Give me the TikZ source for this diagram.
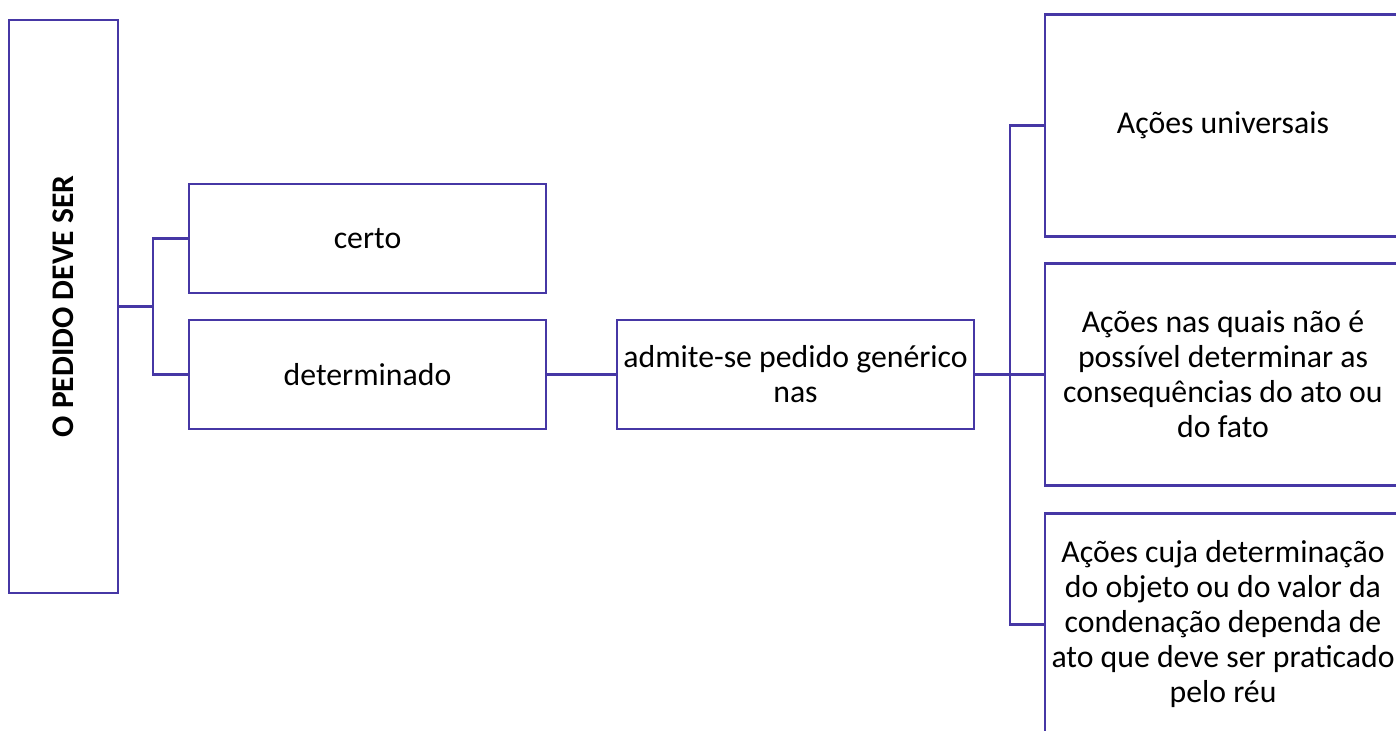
\documentclass[tikz,border=0pt]{standalone}
\usepackage{fontspec}
\setmainfont{Carlito}
\usepackage{tikz}
\usetikzlibrary{positioning}
\definecolor{linhaazul}{RGB}{70,55,165}
\tikzstyle{caixa} = [rectangle, line width=2.1pt, outer sep=0pt, draw=linhaazul, align=center, inner sep=1pt, font=\fontsize{22.6}{24.9}\selectfont]
\tikzstyle{caixaA} = [caixa, minimum width=8.925cm, minimum height=2.725cm]
\tikzstyle{caixaB} = [caixa, minimum width=8.9cm, minimum height=5.55cm]
\tikzstyle{ramo} = [line width=2.1pt, draw=linhaazul]
\begin{document}
\begin{tikzpicture}[node distance = 0.675cm, auto]
		\useasboundingbox (0,0) rectangle (34.9,-18.275);
		\clip (0,0) rectangle (34.9,-18.275);
		\node (Pedido) [caixa, rotate=90, minimum width=14.325cm, minimum height=2.725cm, font=\fontsize{22.4}{24}\selectfont\bfseries] at (1.5875,-7.6625) {O PEDIDO DEVE SER};
		\node (Certo) [caixaA] at (9.1875,-5.9625) {certo};
		\node (Determinado) [caixaA, below = of Certo] {determinado};
		\node (Admite) [caixaA, right = 1.775cm of Determinado] {admite-se pedido genérico\\nas};
		\node (Possivel) [caixaB, right = 1.775cm of Admite] {Ações nas quais não é\\possível determinar as\\consequências do ato ou\\do fato};
		\node (Universais) [caixaB, above = of Possivel] {Ações universais};
		\node (Dependa) [caixaB, below = 0.7cm of Possivel] {Ações cuja determinação\\do objeto ou do valor da\\condenação dependa de\\ato que deve ser praticado\\pelo réu};
		\coordinate (GarfoA) at (3.825,-7.6625);
		\coordinate (GarfoB) at (25.25,-9.3625);
		\draw [ramo] (Pedido) -- (GarfoA);
		\draw [ramo] (GarfoA) |- (Certo);
		\draw [ramo] (GarfoA) |- (Determinado);
		\draw [ramo] (Determinado) -- (Admite);
		\draw [ramo] (Admite) -- (GarfoB);
		\draw [ramo] (GarfoB) |- (Universais);
		\draw [ramo] (GarfoB) |- (Possivel);
		\draw [ramo] (GarfoB) |- (Dependa);
	\end{tikzpicture}
\end{document}
